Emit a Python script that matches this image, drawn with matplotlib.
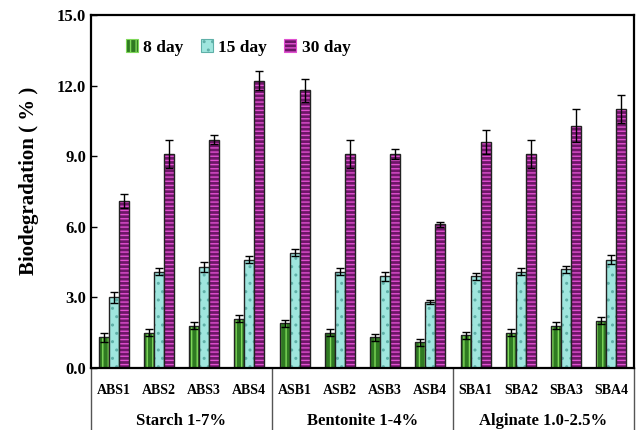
import numpy as np
import matplotlib
matplotlib.use("Agg")
import matplotlib.pyplot as plt
from matplotlib.patches import Patch

plt.rcParams['font.family'] = ['Liberation Serif', 'DejaVu Serif']
plt.rcParams['font.weight'] = 'bold'
plt.rcParams['hatch.linewidth'] = 1.0

samples = ["ABS1", "ABS2", "ABS3", "ABS4", "ASB1", "ASB2", "ASB3", "ASB4",
           "SBA1", "SBA2", "SBA3", "SBA4"]
groups = ["Starch 1-7%", "Bentonite 1-4%", "Alginate 1.0-2.5%"]
series = ["8 day", "15 day", "30 day"]

day8 = [1.3, 1.5, 1.8, 2.1, 1.9, 1.5, 1.3, 1.1, 1.4, 1.5, 1.8, 2.0]
day8_err = [0.2, 0.15, 0.15, 0.15, 0.15, 0.15, 0.15, 0.15, 0.15, 0.15, 0.15, 0.15]
day15 = [3.0, 4.1, 4.3, 4.6, 4.9, 4.1, 3.9, 2.8, 3.9, 4.1, 4.2, 4.6]
day15_err = [0.25, 0.15, 0.2, 0.15, 0.15, 0.15, 0.2, 0.1, 0.15, 0.15, 0.15, 0.2]
day30 = [7.1, 9.1, 9.7, 12.2, 11.8, 9.1, 9.1, 6.1, 9.6, 9.1, 10.3, 11.0]
day30_err = [0.3, 0.6, 0.2, 0.4, 0.5, 0.6, 0.2, 0.1, 0.5, 0.6, 0.7, 0.6]

# fill, hatch colour, hatch
styles = [("#2f7a22", "#7fd85a", "|||"),
          ("#9fe6de", "#5fb0a8", ".."),
          ("#6e1668", "#e050d0", "----")]

fig = plt.figure(figsize=(6.38, 4.30), dpi=100)
ax = fig.add_axes([0.1426, 0.1442, 0.8511, 0.8209])

x = np.arange(len(samples))
w = 0.22
for i, (vals, errs) in enumerate([(day8, day8_err), (day15, day15_err), (day30, day30_err)]):
    fc, hc, h = styles[i]
    pos = x + (i - 1) * w
    ax.bar(pos, vals, w, color=fc, edgecolor=hc, hatch=h, linewidth=0)
    ax.bar(pos, vals, w, fill=False, edgecolor="#222222", linewidth=1.0)
    ax.errorbar(pos, vals, yerr=errs, fmt="none", ecolor="black",
                elinewidth=1.0, capsize=3, capthick=1.0)

ax.set_xlim(-0.5, len(samples) - 0.5)
ax.set_ylim(0, 15)
ax.set_yticks(np.arange(0, 15.1, 3))
ax.set_yticklabels(["%.1f" % v for v in np.arange(0, 15.1, 3)], fontsize=12, fontweight="bold")
ax.tick_params(axis="y", direction="in", length=4, width=1)
ax.set_xticks([])
for s in ax.spines.values():
    s.set_linewidth(1.6)
ax.set_ylabel("Biodegradation ( % )", fontsize=15, fontweight="bold")
ax.yaxis.set_label_coords(-0.095, 0.53)

# category labels below the axis
for i, s in enumerate(samples):
    ax.text(i, -0.065, s, transform=ax.get_xaxis_transform(), ha="center", va="center",
            fontsize=10, fontweight="bold")
for g, name in enumerate(groups):
    ax.text(g * 4 + 1.5, -0.15, name, transform=ax.get_xaxis_transform(), ha="center",
            va="center", fontsize=12, fontweight="bold")
for b in [-0.5, 3.5, 7.5, 11.5]:
    ax.plot([b, b], [0, -0.18], transform=ax.get_xaxis_transform(), color="#555555",
            linewidth=1.0, clip_on=False)

handles = [Patch(facecolor=fc, edgecolor=hc, hatch=h) for fc, hc, h in styles]
leg = ax.legend(handles, series, loc="upper left", ncol=3, frameon=False,
                bbox_to_anchor=(0.035, 0.975), handlelength=0.7, handleheight=0.7,
                handletextpad=0.3, columnspacing=1.0,
                prop={"size": 12.5, "weight": "bold"})
for p in leg.get_patches():
    p.set_linewidth(0.8)

fig.savefig("out.png", dpi=100)
